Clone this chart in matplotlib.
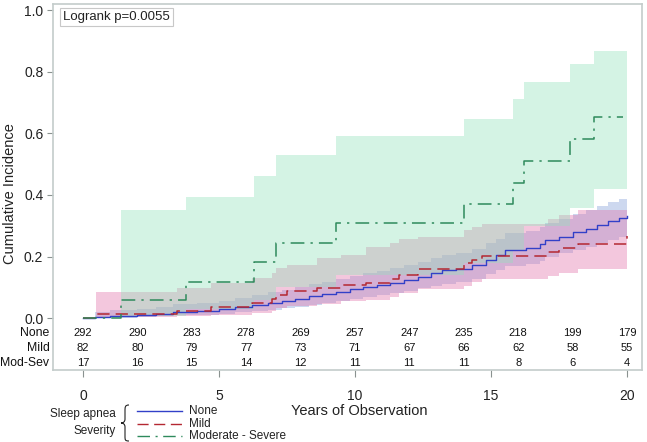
import matplotlib
matplotlib.use("Agg")
import matplotlib.pyplot as plt
from matplotlib.path import Path
import matplotlib.patches as mpatches

plt.rcParams["font.family"] = ["Liberation Sans", "DejaVu Sans"]

# ---------------------------------------------------------------------------
# Data
# ---------------------------------------------------------------------------
# None (solid blue)
none_t = [0.0, 0.44, 1.0, 2.0, 2.7, 3.3, 4.2, 5.0, 5.6, 6.2, 6.8, 7.3, 7.8, 8.3,
          8.8, 9.3, 9.8, 10.3, 10.8, 11.3, 11.8, 12.3, 12.8, 13.2, 13.7, 14.3,
          14.8, 15.2, 15.5, 16.3, 16.8, 17.0, 17.5, 18.0, 18.5, 18.9, 19.3,
          19.7, 20.0]
none_v = [0.0, 0.003, 0.007, 0.010, 0.014, 0.021, 0.024, 0.028, 0.035, 0.042,
          0.048, 0.055, 0.062, 0.070, 0.077, 0.085, 0.094, 0.101, 0.108, 0.115,
          0.125, 0.135, 0.145, 0.155, 0.160, 0.172, 0.190, 0.205, 0.222, 0.228,
          0.240, 0.255, 0.265, 0.280, 0.290, 0.303, 0.315, 0.325, 0.332]
none_lo = [0.0, 0.0, 0.001, 0.003, 0.005, 0.009, 0.011, 0.013, 0.018, 0.023,
           0.027, 0.032, 0.037, 0.043, 0.049, 0.055, 0.062, 0.068, 0.074, 0.080,
           0.088, 0.096, 0.104, 0.112, 0.117, 0.127, 0.142, 0.155, 0.170, 0.175,
           0.186, 0.200, 0.210, 0.222, 0.232, 0.244, 0.255, 0.264, 0.270]
none_hi = [0.0, 0.020, 0.025, 0.030, 0.035, 0.045, 0.050, 0.055, 0.065, 0.075,
           0.083, 0.092, 0.100, 0.110, 0.118, 0.128, 0.138, 0.146, 0.154, 0.162,
           0.172, 0.183, 0.194, 0.205, 0.210, 0.223, 0.243, 0.258, 0.276, 0.283,
           0.296, 0.310, 0.322, 0.338, 0.350, 0.364, 0.377, 0.388, 0.395]

# Mild (dashed red)
mild_t = [0.0, 0.48, 3.45, 4.7, 6.2, 6.95, 7.1, 7.5, 8.6, 9.5, 10.4, 11.3, 11.6,
          12.3, 14.0, 14.3, 14.66, 17.1, 17.5, 18.2, 20.0]
mild_v = [0.0, 0.012, 0.024, 0.036, 0.050, 0.062, 0.075, 0.088, 0.096, 0.107,
          0.113, 0.127, 0.141, 0.161, 0.178, 0.190, 0.201, 0.216, 0.229, 0.241,
          0.268]
mild_lo = [0.0, 0.002, 0.005, 0.010, 0.017, 0.024, 0.031, 0.040, 0.046, 0.054,
           0.060, 0.068, 0.080, 0.093, 0.105, 0.117, 0.126, 0.137, 0.148, 0.158,
           0.165]
mild_hi = [0.0, 0.083, 0.097, 0.115, 0.130, 0.148, 0.163, 0.172, 0.195, 0.205,
           0.232, 0.243, 0.258, 0.264, 0.286, 0.296, 0.306, 0.322, 0.336, 0.350,
           0.350]

# Moderate - Severe (dash-dot green)
mod_t = [0.0, 1.4, 3.79, 6.3, 7.1, 9.3, 14.0, 15.82, 16.2, 17.9, 18.8, 19.85]
mod_v = [0.0, 0.059, 0.118, 0.183, 0.245, 0.308, 0.371, 0.440, 0.510, 0.581,
         0.653, 0.653]
mod_band_t = [1.4, 3.79, 6.3, 7.1, 9.3, 14.0, 15.82, 16.2, 17.9, 18.8, 20.0]
mod_lo = [0.008, 0.030, 0.060, 0.100, 0.140, 0.180, 0.220, 0.300, 0.357, 0.420,
          0.420]
mod_hi = [0.351, 0.394, 0.463, 0.529, 0.592, 0.647, 0.712, 0.768, 0.825, 0.869,
          0.869]

# numbers at risk
risk_t = [0, 2, 4, 6, 8, 10, 12, 14, 16, 18, 20]
risk_none = [292, 290, 283, 278, 269, 257, 247, 235, 218, 199, 179]
risk_mild = [82, 80, 79, 77, 73, 71, 67, 66, 62, 58, 55]
risk_mod = [17, 16, 15, 14, 12, 11, 11, 11, 8, 6, 4]
risk_names = ["None", "Mild", "Mod-Sev"]

C_NONE = "#3240c8"
C_MILD = "#b42832"
C_MOD = "#2e8a5c"
F_NONE = "#829fd9"
F_MILD = "#e175ac"
F_MOD = "#94e1bc"
FRAME = "#c3cccb"

W, H = 647, 442
fig = plt.figure(figsize=(W / 100, H / 100), dpi=100)
ax = fig.add_axes([53 / W, 1 - 370 / H, 589 / W, 366 / H])

# bands: None, Mild, then Moderate-Severe on top
ax.fill_between(none_t, none_lo, none_hi, step="post", color=F_NONE,
                alpha=0.4, linewidth=0)
ax.fill_between(mild_t[1:], mild_lo[1:], mild_hi[1:], step="post",
                color=F_MILD, alpha=0.4, linewidth=0)
ax.fill_between(mod_band_t, mod_lo, mod_hi, step="post", color=F_MOD,
                alpha=0.4, linewidth=0)

ax.step(none_t, none_v, where="post", color=C_NONE, lw=1.0)
ax.step(mild_t, mild_v, where="post", color=C_MILD, lw=1.1,
        dashes=(8, 4))
ax.step(mod_t, mod_v, where="post", color=C_MOD, lw=1.1,
        dashes=(9, 4, 1.5, 4))

ax.set_xlim(-1.1, 20.55)
ax.set_ylim(-0.169, 1.021)
ax.set_xticks([0, 5, 10, 15, 20])
ax.set_yticks([0.0, 0.2, 0.4, 0.6, 0.8, 1.0])
ax.set_yticklabels(["0.0", "0.2", "0.4", "0.6", "0.8", "1.0"])
ax.tick_params(axis="y", length=4, width=0.8, color="#8a9290", pad=3,
               labelsize=10, labelcolor="#222222")
ax.tick_params(axis="x", length=5, width=0.8, color="#8a9290", pad=9,
               labelsize=10, labelcolor="#222222")
for sp in ax.spines.values():
    sp.set_color(FRAME)
    sp.set_linewidth(1.2)

# y label
fig.text(10 / W, 1 - 194 / H, "Cumulative Incidence", rotation=90,
         ha="center", va="center", fontsize=10.5, color="#222222")

# Logrank box
ax.text(0.017, 0.965, "Logrank p=0.0055", transform=ax.transAxes,
        fontsize=9.5, color="#222222", va="center", ha="left",
        bbox=dict(boxstyle="square,pad=0.25", fc="white", ec="#c8c8c8",
                  lw=0.8))

# at-risk table
rows_y = [-0.049, -0.098, -0.146]
for name, counts, yy in zip(risk_names, [risk_none, risk_mild, risk_mod], rows_y):
    ax.text(-0.006, yy, name, transform=ax.get_yaxis_transform(),
            ha="right", va="center", fontsize=8.8, color="#111111",
            clip_on=False)
    for tt, n in zip(risk_t, counts):
        ax.text(tt, yy, str(n), ha="center", va="center", fontsize=8,
                color="#111111")

# x label
fig.text(359 / W, 1 - 411 / H, "Years of Observation", ha="center",
         va="center", fontsize=10.5, color="#222222")

# legend
fig.text(116 / W, 1 - 414 / H, "Sleep apnea", ha="right", va="center",
         fontsize=8.5, color="#222222")
fig.text(116 / W, 1 - 431 / H, "Severity", ha="right", va="center",
         fontsize=8.5, color="#222222")

brace = [(129, 405), (125, 405), (125, 407), (125, 411), (125, 419),
         (125, 422), (123, 423), (121, 423), (123, 423), (125, 424),
         (125, 427), (125, 436), (125, 440), (125, 441), (129, 441)]
codes = [Path.MOVETO, Path.CURVE4, Path.CURVE4, Path.CURVE4, Path.LINETO,
         Path.CURVE4, Path.CURVE4, Path.CURVE4, Path.CURVE4, Path.CURVE4,
         Path.CURVE4, Path.LINETO, Path.CURVE4, Path.CURVE4, Path.CURVE4]
verts = [(x / W, 1 - y / H) for x, y in brace]
fig.add_artist(mpatches.PathPatch(Path(verts, codes), transform=fig.transFigure,
                                  fill=False, ec="#222222", lw=0.8))

leg_items = [("None", C_NONE, None, 411),
             ("Mild", C_MILD, (8, 4), 424),
             ("Moderate - Severe", C_MOD, (9, 4, 1.5, 4), 436)]
for lab, col, dsh, yy in leg_items:
    ln = plt.Line2D([137 / W, 182 / W], [1 - yy / H, 1 - yy / H],
                    transform=fig.transFigure, color=col, lw=1.0)
    if dsh is not None:
        ln.set_dashes(dsh)
    fig.add_artist(ln)
    fig.text(189 / W, 1 - yy / H, lab, ha="left", va="center",
             fontsize=8.5, color="#222222")

fig.savefig("out.png", dpi=100)
